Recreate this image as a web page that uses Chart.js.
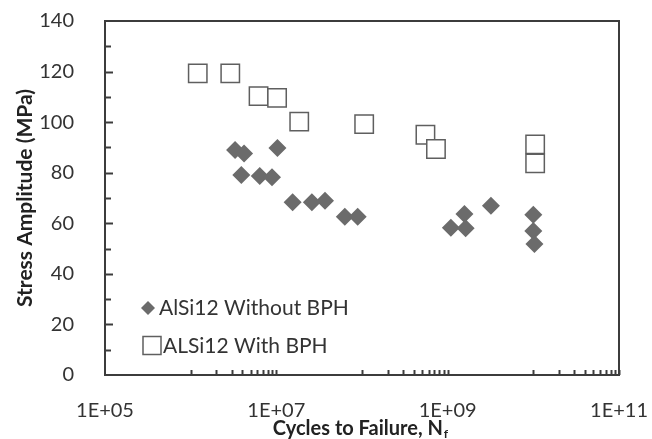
<!DOCTYPE html>
<html>
<head>
<meta charset="utf-8">
<script src="https://cdn.jsdelivr.net/npm/chart.js@4.4.1/dist/chart.umd.min.js"></script>
<style>
    html, body { margin: 0; padding: 0; background: #fff; }
    #wrap { width: 652px; height: 439px; }
</style>
</head>
<body>
<div id="wrap"><canvas id="sn-chart" width="652" height="439"></canvas></div>
<script>
// S-N data
const cyclesWithout = [3.3e6, 4.2e6, 1.03e7, 3.9e6, 6.4e6, 8.9e6, 1.55e7, 2.6e7, 3.7e7, 6.3e7, 8.9e7, 1.09e9, 1.57e9, 1.62e9, 3.2e9, 1.0e10, 1.0e10, 1.03e10];
const stressWithout = [89.0, 87.6, 89.8, 79.1, 78.7, 78.2, 68.3, 68.3, 68.9, 62.6, 62.6, 58.2, 63.7, 58.0, 66.9, 63.4, 56.9, 51.8];
const cyclesWith = [1.21e6, 2.9e6, 6.2e6, 1.02e7, 1.85e7, 1.06e8, 5.5e8, 7.3e8, 1.05e10, 1.05e10];
const stressWith = [119.3, 119.3, 110.3, 109.6, 100.2, 99.2, 95.0, 89.4, 91.2, 83.7];

const seriesLabels = ['AlSi12 Without BPH', 'ALSi12 With BPH'];
const xTickValues = [1e5, 1e7, 1e9, 1e11];
const yTickValues = [0, 20, 40, 60, 80, 100, 120, 140];

const FONT = 'Lato, "Open Sans", sans-serif';
const TEXT = '#333333';
const AXIS = '#3c3c3c';
const DIAMOND = '#6b6b6b';
const SQUARE = '#5f5f5f';

function toPoints(xs, ys) {
    return xs.map((v, i) => ({ x: v, y: ys[i] }));
}

function formatExp(v) {
    let p = Math.round(Math.log10(v));
    return '1E+' + (p < 10 ? '0' + p : p);
}

function strokeLine(ctx, x1, y1, x2, y2) {
    ctx.beginPath();
    ctx.moveTo(x1, y1);
    ctx.lineTo(x2, y2);
    ctx.stroke();
}

const frameAndLegend = {
    id: 'frameAndLegend',
    afterDraw(chart) {
        const { ctx, chartArea: a, scales: { x, y } } = chart;
        ctx.save();
        ctx.strokeStyle = AXIS;
        ctx.lineWidth = 2;

        // inward tick marks on y, every 10
        for (let v = 10; v < 140; v += 10) {
            let py = Math.round(y.getPixelForValue(v)) + 0.5;
            strokeLine(ctx, a.left, py, a.left + (v % 20 === 0 ? 8 : 6), py);
        }
        // x minor ticks, only in every other decade like the original
        [1e6, 1e8, 1e10].forEach(base => {
            for (let n = 1; n <= 10; n++) {
                let px = Math.round(x.getPixelForValue(base * n)) + 0.5;
                strokeLine(ctx, px, a.bottom, px, a.bottom - 5);
            }
        });
        ctx.strokeRect(a.left, a.top, a.right - a.left, a.bottom - a.top);

        // legend
        ctx.font = '21px ' + FONT;
        ctx.textBaseline = 'middle';
        ctx.textAlign = 'left';
        ctx.fillStyle = DIAMOND;
        ctx.beginPath();
        ctx.moveTo(141, 308);
        ctx.lineTo(148, 301);
        ctx.lineTo(155, 308);
        ctx.lineTo(148, 315);
        ctx.closePath();
        ctx.fill();
        ctx.fillStyle = TEXT;
        ctx.fillText(seriesLabels[0], 159, 308);

        ctx.strokeStyle = SQUARE;
        ctx.lineWidth = 1.5;
        ctx.strokeRect(143, 336.5, 18, 18);
        ctx.fillStyle = TEXT;
        ctx.fillText(seriesLabels[1], 163, 346);

        // axis titles
        ctx.fillStyle = '#222222';
        ctx.font = 'bold 21px ' + FONT;
        ctx.textAlign = 'center';
        ctx.save();
        ctx.translate(25, 198);
        ctx.rotate(-Math.PI / 2);
        ctx.fillText('Stress Amplitude (MPa)', 0, 0);
        ctx.restore();

        let main = 'Cycles to Failure, N';
        ctx.font = 'bold 20px ' + FONT;
        let mainW = ctx.measureText(main).width;
        ctx.font = 'bold 12px ' + FONT;
        let subW = ctx.measureText('f').width;
        let left = 360 - (mainW + subW) / 2;
        ctx.textAlign = 'left';
        ctx.font = 'bold 20px ' + FONT;
        ctx.fillText(main, left, 429);
        ctx.font = 'bold 12px ' + FONT;
        ctx.fillText('f', left + mainW + 1, 434);
        ctx.restore();
    }
};

const ctx = document.getElementById('sn-chart').getContext('2d');
const chart = new Chart(ctx, {
    type: 'scatter',
    data: {
        datasets: [{
            label: seriesLabels[1],
            data: toPoints(cyclesWith, stressWith),
            pointStyle: 'rect',
            pointRadius: 13,
            backgroundColor: '#ffffff',
            borderColor: SQUARE,
            borderWidth: 1.5
        }, {
            label: seriesLabels[0],
            data: toPoints(cyclesWithout, stressWithout),
            pointStyle: 'rectRot',
            pointRadius: 9,
            backgroundColor: DIAMOND,
            borderColor: DIAMOND,
            borderWidth: 0
        }]
    },
    options: {
        responsive: false,
        animation: false,
        devicePixelRatio: 1,
        layout: { padding: { top: 21, right: 33, left: 0, bottom: 0 } },
        plugins: {
            legend: { display: false },
            tooltip: { enabled: false }
        },
        scales: {
            x: {
                type: 'logarithmic',
                min: 1e5,
                max: 1e11,
                grid: { display: false },
                border: { display: false },
                afterBuildTicks: (axis) => { axis.ticks = xTickValues.map(v => ({ value: v })); },
                afterFit: (axis) => {
                    axis.height = 64;
                    axis.paddingLeft = 0;
                    axis.paddingRight = 0;
                },
                ticks: {
                    callback: (v) => formatExp(v),
                    color: TEXT,
                    font: { family: FONT, size: 20 },
                    padding: 16,
                    maxRotation: 0,
                    autoSkip: false
                }
            },
            y: {
                min: 0,
                max: 140,
                grid: { display: false },
                border: { display: false },
                afterBuildTicks: (axis) => { axis.ticks = yTickValues.map(v => ({ value: v })); },
                afterFit: (axis) => {
                    axis.width = 105;
                    axis.paddingTop = 0;
                    axis.paddingBottom = 0;
                },
                ticks: {
                    color: TEXT,
                    font: { family: FONT, size: 20 },
                    padding: 23
                }
            }
        }
    },
    plugins: [frameAndLegend]
});
</script>
</body>
</html>
